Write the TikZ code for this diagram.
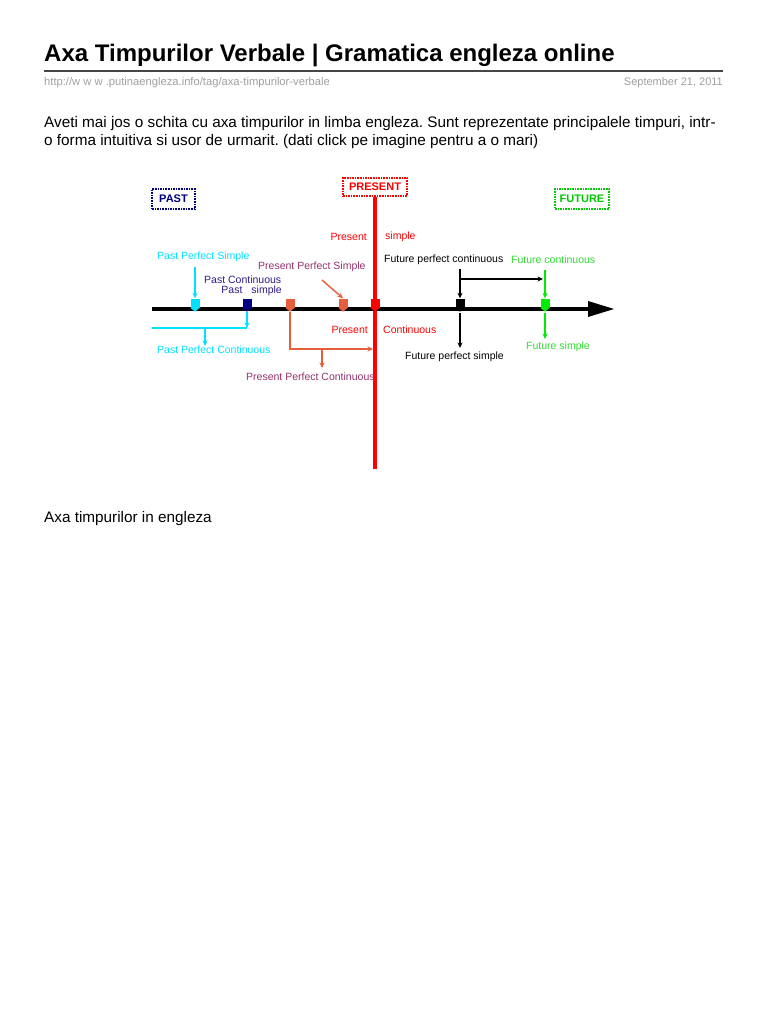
\documentclass[tikz,border=0pt]{standalone}
\usepackage{fontspec}
\setmainfont{Liberation Sans}
\usetikzlibrary{arrows.meta,calc}
\frenchspacing
\definecolor{tcyan}{RGB}{0,225,255}
\definecolor{tnavy}{RGB}{0,0,128}
\definecolor{tnavytxt}{RGB}{45,30,140}
\definecolor{torange}{RGB}{230,95,60}
\definecolor{tpurple}{RGB}{150,50,110}
\definecolor{tred}{RGB}{255,0,0}
\definecolor{tgreen}{RGB}{0,235,0}
\definecolor{tgreentxt}{RGB}{50,220,50}
\definecolor{tgray}{RGB}{160,160,160}
\definecolor{trule}{RGB}{70,70,70}
\begin{document}
\begin{tikzpicture}[x=1pt,y=-1pt,
  lbl/.style={font=\fontsize{10.5}{12}\selectfont, inner sep=0pt, anchor=west},
  pagetxt/.style={inner sep=0pt, anchor=base west},
  bodytxt/.style={pagetxt, font=\fontsize{15.3}{18}\selectfont},
  mk/.style={rectangle, fill=#1, minimum width=9pt, minimum height=9pt, inner sep=0pt},
  con/.style={line width=1.4pt, draw=#1},
  arr/.style={line width=1.4pt, draw=#1, -{Stealth[length=5.5pt,width=5pt]}},
  tbox/.style={draw=#1, densely dotted, line width=1.6pt, inner sep=0pt, font=\fontsize{11}{13}\selectfont\bfseries, text=#1}
]
\useasboundingbox (0,0) rectangle (768,1024);
\fill[white] (0,0) rectangle (768,1024);

% page text
\node[pagetxt, font=\fontsize{24}{28}\selectfont\bfseries] (title) at (44,62) {Axa Timpurilor Verbale | Gramatica engleza online};
\coordinate (r0) at (44,71);
\coordinate (r1) at (723,71);
\draw[trule, line width=1.3pt] (r0) -- (r1);
\node[pagetxt, font=\fontsize{11.2}{13}\selectfont, text=tgray] (url) at (44,86) {http://w w w .putinaengleza.info/tag/axa-timpurilor-verbale};
\node[inner sep=0pt, anchor=base east, font=\fontsize{11}{13}\selectfont, text=tgray] (date) at (723,86) {September 21, 2011};
\node[bodytxt] (p1) at (44,128) {Aveti mai jos o schita cu axa timpurilor in limba engleza. Sunt reprezentate principalele timpuri, intr-};
\node[bodytxt] (p2) at (44,146) {o forma intuitiva si usor de urmarit. (dati click pe imagine pentru a o mari)};
\node[bodytxt] (cap) at (44,522) {Axa timpurilor in engleza};

% boxes
\node[tbox=tnavy, minimum width=43pt, minimum height=20pt] (past) at (173.5,199) {PAST};
\node[tbox=tred, minimum width=64pt, minimum height=18pt] (present) at (375,187) {PRESENT};
\node[tbox=tgreen!85!black, minimum width=54pt, minimum height=20pt] (future) at (582,199) {FUTURE};

% present line
\coordinate (pend) at (375,469);
\draw[tred, line width=4pt] (present.south) -- (pend);

% axis
\coordinate (a0) at (152,309);
\coordinate (a1) at (590,309);
\coordinate (atip) at (614,309);
\draw[black, line width=4pt] (a0) -- (a1);
\fill[black] (588,301) -- (atip) -- (588,317) -- cycle;

% markers
\node[mk=tcyan] (m1) at (195,303) {};
\node[mk=tnavy] (m2) at (247,303) {};
\node[mk=torange] (m3) at (290,303) {};
\node[mk=torange] (m4) at (343,303) {};
\node[mk=tred] (m5) at (375,303) {};
\node[mk=black] (m6) at (460,303) {};
\node[mk=tgreen] (m7) at (545,303) {};
\foreach \m/\c in {m1/tcyan,m2/tnavy,m3/torange,m4/torange,m5/tred,m6/black,m7/tgreen}{
  \fill[\c] (\m.south west) -- (\m.south east) -- ($(\m.south)+(0,4)$) -- cycle;
}

% labels
\node[lbl, text=tcyan] (pps) at (157,257) {Past Perfect Simple};
\node[lbl, text=tnavytxt] (pc) at (204,280) {Past Continuous};
\node[lbl, text=tnavytxt, anchor=east] (ps) at (282,291) {Past\hspace{9pt}simple};
\node[lbl, text=tpurple] (prps) at (258,267) {Present Perfect Simple};
\node[lbl, text=tred, anchor=east] (prs1) at (367,237) {Present};
\node[lbl, text=tred] (prs2) at (385,237) {simple};
\node[lbl, text=black] (fpc) at (384,260) {Future perfect continuous};
\node[lbl, text=tgreentxt] (fc) at (511,260) {Future continuous};
\node[lbl, text=tred, anchor=east] (prc1) at (368,330) {Present};
\node[lbl, text=tred] (prc2) at (383,330) {Continuous};
\node[lbl, text=tcyan] (ppc) at (157,350) {Past Perfect Continuous};
\node[lbl, text=tpurple] (prpc) at (246,377) {Present Perfect Continuous};
\node[lbl, text=black] (fps) at (405,357) {Future perfect simple};
\node[lbl, text=tgreentxt] (fs) at (526,347) {Future simple};

% cyan connectors
\coordinate (c1) at (195,267);
\draw[arr=tcyan] (c1) -- (m1.north);
\coordinate (c2) at (247,312);
\coordinate (c3) at (247,328);
\coordinate (c4) at (152,328);
\coordinate (c5) at (205,328);
\draw[arr=tcyan] (c2) -- (c3);
\draw[con=tcyan] (c4) -- (c3);
\draw[arr=tcyan] (c5) -- (ppc.north -| c5);

% orange connectors
\coordinate (o1) at (290,312);
\coordinate (o2) at (290,349);
\coordinate (o3) at (373,349);
\coordinate (o4) at (322,349);
\draw[arr=torange] (o1) -- (o2) -- (o3);
\draw[arr=torange] (o4) -- (322,368);
\coordinate (o5) at (322,280);
\draw[arr=torange] (o5) -- (m4.north);

% black connectors
\coordinate (b1) at (460,269);
\coordinate (b2) at (460,279);
\coordinate (b3) at (543,279);
\coordinate (b4) at (460,313);
\draw[arr=black] (b1) -- (m6.north);
\draw[arr=black] (b2) -- (b3);
\draw[arr=black] (b4) -- (460,348);

% green connectors
\coordinate (g1) at (545,270);
\coordinate (g2) at (545,313);
\draw[arr=tgreen] (g1) -- (m7.north);
\draw[arr=tgreen] (g2) -- (545,339);
\end{tikzpicture}
\end{document}
